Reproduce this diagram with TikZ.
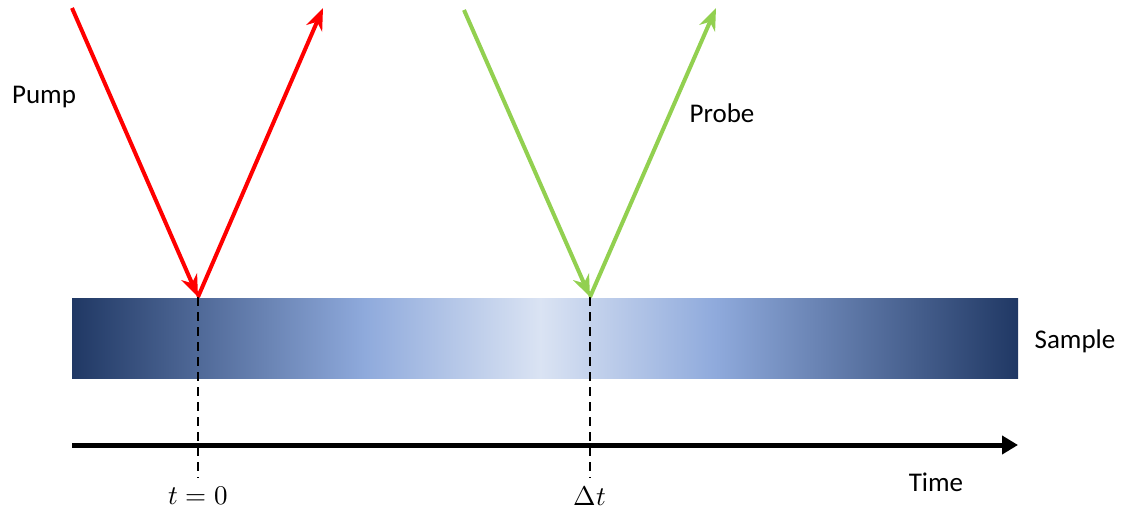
\documentclass[tikz,border=0pt]{standalone}
\usepackage{unicode-math}
\setmainfont{Carlito}
\usetikzlibrary{arrows.meta}
\definecolor{navy}{HTML}{203864}
\definecolor{midblue}{HTML}{8FAADC}
\definecolor{lightblue}{HTML}{DAE3F3}
\definecolor{beamred}{HTML}{FF0000}
\definecolor{beamgreen}{HTML}{92D050}
\pgfdeclarehorizontalshading{sampleshade}{100bp}{color(0bp)=(navy); color(25bp)=(navy); color(40.5bp)=(midblue); color(49.75bp)=(lightblue); color(59bp)=(midblue); color(75bp)=(navy); color(100bp)=(navy)}
\tikzset{
  beam/.style={line width=4pt, -{Stealth[length=22pt,width=17pt,inset=7pt]}},
  guide/.style={line width=2.4pt, dash pattern=on 9pt off 6pt},
  axisline/.style={line width=5pt, -{Triangle[length=16pt,width=18pt]}},
  lbl/.style={font=\fontsize{27}{32}\selectfont, inner sep=0pt},
}
\begin{document}
\begin{tikzpicture}[x=1pt,y=-1pt]
\useasboundingbox (0,0) rectangle (1126,514);
\fill[white] (0,0) rectangle (1126,514);
% sample
\shade[shading=sampleshade] (72,298) rectangle (1018,378);
% coordinates
\coordinate (pumpin) at (72,8);
\coordinate (hit1) at (198,297);
\coordinate (pumpout) at (323,8);
\coordinate (probein) at (464,10);
\coordinate (hit2) at (590,297);
\coordinate (probeout) at (716,8);
\coordinate (d1) at (198,478);
\coordinate (d2) at (590,478);
\coordinate (axs) at (72,445);
\coordinate (axe) at (1018,445);
% dashed guides
\draw[guide] (hit1) -- (d1);
\draw[guide] (hit2) -- (d2);
% time axis
\draw[axisline] (axs) -- (axe);
% beams
\draw[beam, beamred] (pumpin) -- (hit1);
\draw[beam, beamred] (hit1) -- (pumpout);
\draw[beam, beamgreen] (probein) -- (hit2);
\draw[beam, beamgreen] (hit2) -- (probeout);
% labels
\node[lbl] (pump) at (44,97) {Pump};
\node[lbl] (probe) at (722,113) {Probe};
\node[lbl] (samplelbl) at (1075,341) {Sample};
\node[lbl] (time) at (936,482) {Time};
\node[lbl] (t0) at (198,496) {$t=0$};
\node[lbl] (dt) at (590,496) {$\Delta t$};
\end{tikzpicture}
\end{document}
